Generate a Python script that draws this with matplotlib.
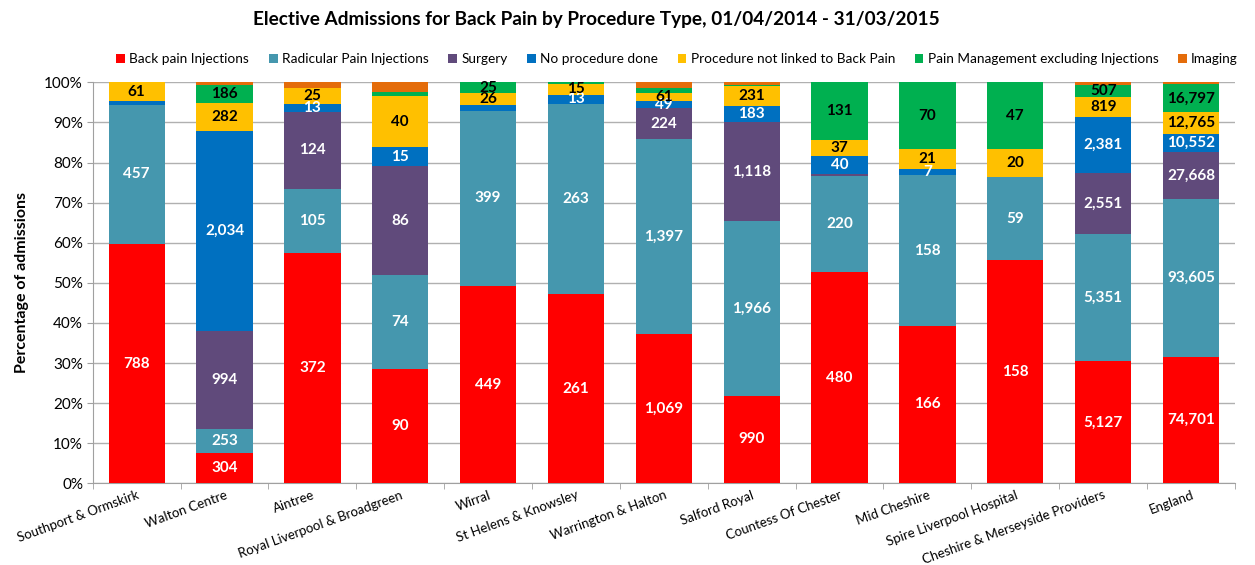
import numpy as np
import matplotlib
matplotlib.use("Agg")
import matplotlib.pyplot as plt

plt.rcParams['font.family'] = ['Lato', 'DejaVu Sans']

# providers along the x axis
providers = ["Southport & Ormskirk", "Walton Centre", "Aintree",
             "Royal Liverpool & Broadgreen", "Wirral", "St Helens & Knowsley",
             "Warrington & Halton", "Salford Royal", "Countess Of Chester",
             "Mid Cheshire", "Spire Liverpool Hospital",
             "Cheshire & Merseyside Providers", "England"]

# admissions by procedure type (small unlabeled segments)
back_pain_inj = [788, 304, 372, 90, 449, 261, 1069, 990, 480, 166, 158, 5127, 74701]
radicular_inj = [457, 253, 105, 74, 399, 263, 1397, 1966, 220, 158, 59, 5351, 93605]
surgery = [0, 994, 124, 86, 0, 0, 224, 1118, 4, 0, 0, 2551, 27668]
no_procedure = [13, 2034, 13, 15, 14, 13, 49, 183, 40, 7, 0, 2381, 10552]
not_linked = [61, 282, 25, 40, 26, 15, 61, 231, 37, 21, 20, 819, 12765]
pain_mgmt = [0, 186, 0, 3, 25, 2, 38, 2, 131, 70, 47, 507, 16797]
imaging = [0, 26, 10, 8, 0, 0, 38, 35, 0, 0, 0, 125, 1050]

series_names = ["Back pain Injections", "Radicular Pain Injections", "Surgery",
                "No procedure done", "Procedure not linked to Back Pain",
                "Pain Management excluding Injections", "Imaging"]
series = [back_pain_inj, radicular_inj, surgery, no_procedure, not_linked,
          pain_mgmt, imaging]
colors = ["#FF0000", "#4597AE", "#604A7B", "#0070C0", "#FFC000", "#00B050", "#E46C0A"]
text_colors = ["white", "white", "white", "white", "black", "black", "black"]

counts = np.array(series, dtype=float)
pct = counts / counts.sum(axis=0) * 100

fig = plt.figure(figsize=(12.55, 5.65), dpi=100)
ax = fig.add_axes([0.0739, 0.1446, 0.9101, 0.7097])

x = np.arange(len(providers))
bottom = np.zeros(len(providers))
for k, name in enumerate(series_names):
    ax.bar(x, pct[k], bottom=bottom, width=0.64, color=colors[k], label=name,
           linewidth=0, zorder=3)
    # value labels, Imaging and the thin slivers left unlabeled like the original
    if name != "Imaging":
        for i in range(len(providers)):
            if pct[k, i] >= 1.6:
                ax.text(x[i], bottom[i] + pct[k, i] / 2, f"{int(counts[k, i]):,}",
                        ha="center", va="center", color=text_colors[k],
                        fontsize=11, fontweight="bold", zorder=4)
    bottom += pct[k]

ax.set_xlim(-0.5, len(providers) - 0.5)
ax.set_ylim(0, 100)
ax.set_yticks(np.arange(0, 101, 10))
ax.set_yticklabels([f"{v}%" for v in range(0, 101, 10)], fontsize=11)
ax.yaxis.grid(True, color="#B0B0B0", linewidth=1, zorder=0)
ax.tick_params(axis="y", length=4, color="#A0A0A0", pad=3)

ax.set_xticks(x)
ax.set_xticklabels(providers, rotation=20, ha="right", rotation_mode="anchor",
                   fontsize=9.5)
ax.set_xticks(np.arange(-0.5, len(providers)), minor=True)
ax.tick_params(axis="x", which="major", length=0, pad=4)
ax.tick_params(axis="x", which="minor", length=4, color="#A0A0A0")

for s in ["top", "right"]:
    ax.spines[s].set_visible(False)
for s in ["left", "bottom"]:
    ax.spines[s].set_color("#A0A0A0")

ax.set_ylabel("Percentage of admissions", fontsize=11.5, fontweight="bold", labelpad=11)

fig.text(596 / 1255, 1 - 20 / 565,
         "Elective Admissions for Back Pain by Procedure Type, 01/04/2014 - 31/03/2015",
         ha="center", va="center", fontsize=13.7, fontweight="bold")

fig.legend(loc="center", bbox_to_anchor=(677 / 1255, 1 - 59 / 565), ncol=7,
           frameon=False, fontsize=9.8, handlelength=0.65, handleheight=0.65,
           handletextpad=0.3, columnspacing=1.45, borderaxespad=0)

fig.savefig("out.png", dpi=100)
